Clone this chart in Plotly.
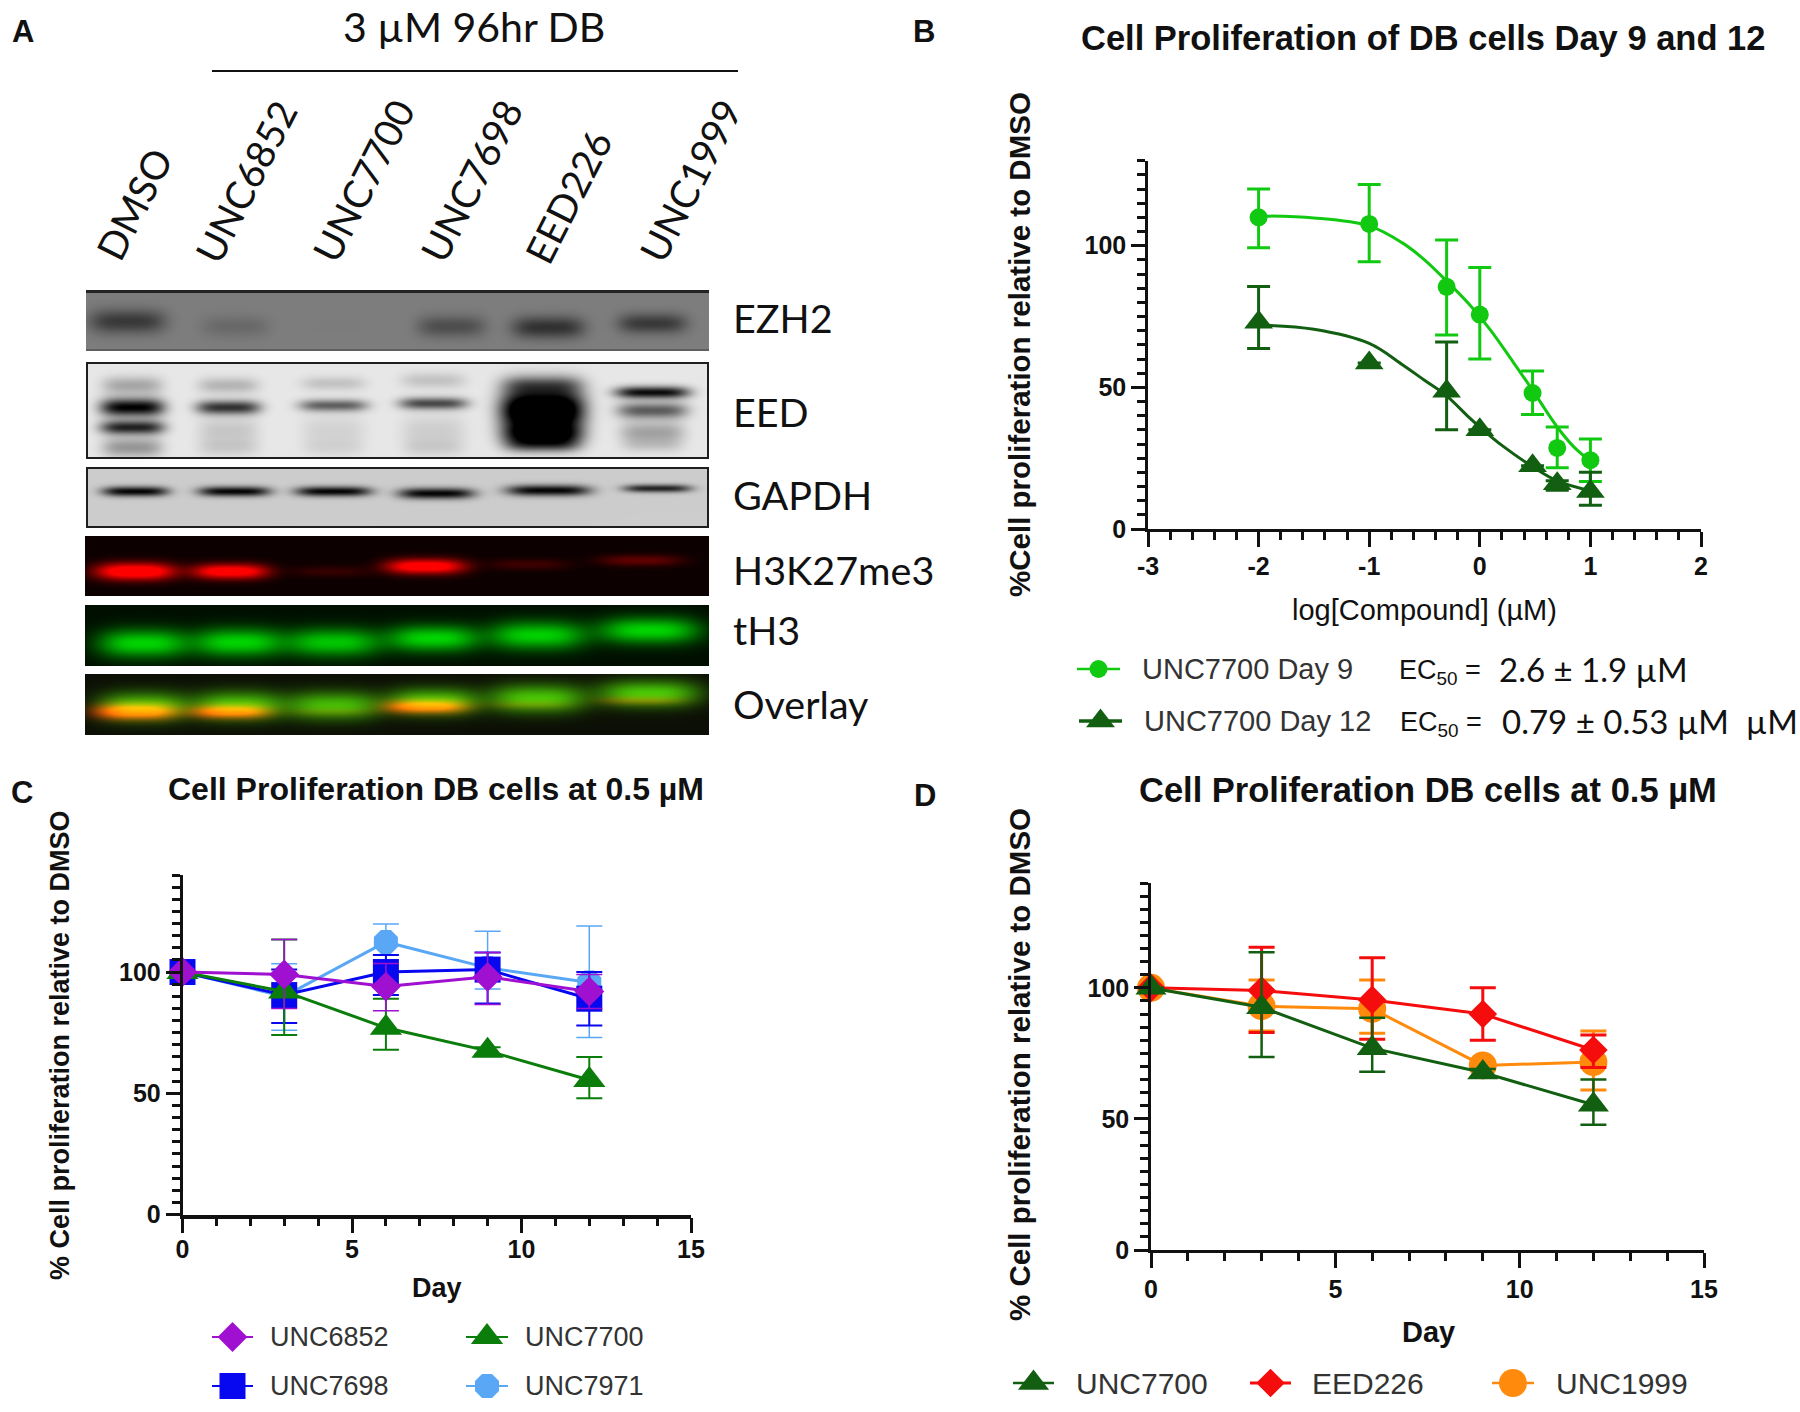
import numpy as np
import plotly.graph_objects as go

W, H = 1800, 1412

# ---------------- data ----------------
LANE_LABELS = ["DMSO", "UNC6852", "UNC7700", "UNC7698", "EED226", "UNC1999"]
BLOT_LABELS = ["EZH2", "EED", "GAPDH", "H3K27me3", "tH3", "Overlay"]

# band strengths per lane
EZH2_SIGNAL = [0.72, 0.22, 0.02, 0.50, 0.80, 0.72]
EED_MAIN = [1.0, 0.78, 0.58, 0.68, 1.4, 0.95]
EED_UPPER = [0.28, 0.22, 0.16, 0.16, 0.4, 0.60]
EED_LOWER = [0.85, 0.14, 0.09, 0.11, 0.8, 0.30]
EED_TAIL = [0.35, 0.12, 0.07, 0.10, 0.4, 0.12]
GAPDH_SIGNAL = [1.0, 1.0, 1.0, 1.0, 1.0, 0.85]
H3K27_SIGNAL = [1.0, 0.92, 0.13, 0.92, 0.16, 0.27]
TH3_SIGNAL = [0.86, 0.86, 0.80, 0.86, 0.84, 0.86]

B_LOGX = [-2, -1, -0.3, 0, 0.477, 0.7, 1]
B_DAY9 = [110, 107.7, 85.5, 75.7, 48, 28.6, 24.3]
B_DAY9_HI = [120, 121.6, 102, 92.3, 55.8, 36, 31.8]
B_DAY9_LO = [99.3, 94.3, 68.5, 60, 40.4, 21.6, 16.8]
B_DAY12 = [73, 58.6, 48.6, 35, 22.3, 16, 13.2]
B_DAY12_HI = [85.6, 58.6, 66, 35, 22.3, 17, 20]
B_DAY12_LO = [63.7, 58.6, 35, 35, 22.3, 13.7, 8.4]
B_FITX9 = [-2, -1.5, -1, -0.7, -0.5, -0.3, -0.1, 0.1, 0.3, 0.477, 0.7, 0.85, 1]
B_FITY9 = [110.5, 109.8, 107, 101, 95, 87.5, 79.5, 70, 59, 49, 36, 29, 24]
B_FITX12 = [-2, -1.5, -1, -0.7, -0.5, -0.3, -0.1, 0, 0.2, 0.477, 0.7, 1]
B_FITY12 = [72, 70.5, 65.5, 58, 52.5, 47, 39.5, 36, 29.5, 22, 17, 13.5]
B_XTICKS = [-3, -2, -1, 0, 1, 2]
B_XTICKTEXT = ["-3", "-2", "-1", "0", "1", "2"]

DAYS = [0, 3, 6, 9, 12]
C_7971 = [100, 90, 112.4, 101.7, 95.7]
C_7971_HI = [100, 103.4, 119.8, 116.8, 119]
C_7971_LO = [100, 76, 105, 93, 73]
C_7698 = [100, 90.5, 100, 101, 89]
C_7698_HI = [100, 101, 107, 108, 100]
C_7698_LO = [100, 79, 90.5, 87, 78]
C_7700 = [100, 92, 77, 67.5, 55.5]
C_7700_HI = [100, 113.4, 89, 69, 65]
C_7700_LO = [100, 74, 68, 66, 48]
C_6852 = [100, 99, 94, 98, 92]
C_6852_HI = [100, 113.4, 103.5, 108, 99]
C_6852_LO = [100, 85, 84, 86.6, 85]

D_1999 = [100, 93, 92, 70.4, 71.7]
D_1999_HI = [100, 103, 103, 71, 83.5]
D_1999_LO = [100, 83.5, 82.7, 69, 61]
D_226 = [100, 99, 95.4, 90, 76.3]
D_226_HI = [100, 115.5, 111.5, 100, 82]
D_226_LO = [100, 83, 80.4, 80, 69.6]
D_7700 = [100, 92.6, 77, 67.7, 55.4]
D_7700_HI = [100, 113.6, 88.6, 69, 65]
D_7700_LO = [100, 73.6, 68, 66, 47.8]

# ---------------- style ----------------
ARIAL = "Liberation Sans"
LATO = "Lato"
LIME, FOREST = "#12c912", "#125f12"
PURPLE, GREEN, BLUE, SKY = "#a010d0", "#0a7d0a", "#0808f0", "#5aa8f5"
RED, ORANGE = "#f50c0c", "#ff8a0c"


def px(x):
    return x / W


def py(y):
    return 1 - y / H


# ---------------- blot images ----------------
BOXES = {"EZH2": (86, 290, 709, 351), "EED": (86, 362, 709, 459), "GAPDH": (86, 467, 709, 528),
         "H3K27me3": (85, 536, 709, 596), "tH3": (85, 605, 709, 666), "Overlay": (85, 674, 709, 735)}


def layer(box, bands, power=4):
    x0, y0, x1, y1 = box
    yy, xx = np.mgrid[y0:y1, x0:x1]
    out = np.zeros(xx.shape)
    for cx, cy, hw, hh, s in bands:
        out += s * np.exp(-(np.abs(xx - cx) / hw) ** power) * np.exp(-((yy - cy) / hh) ** 2)
    return out


def gray_image(box, bands, bg, dark, edge=None, edge_w=2):
    v = np.clip(layer(box, bands), 0, 1)
    g = bg + (dark - bg) * v
    rgb = np.stack([g, g, g], axis=-1)
    if edge is not None:
        rgb[:edge_w, :] = edge
        rgb[-edge_w:, :] = edge
        rgb[:, :edge_w] = edge
        rgb[:, -edge_w:] = edge
    return rgb


ezh2_geom = [(127, 321, 38, 12), (235, 326, 34, 11), (336, 326, 30, 9), (451, 326, 34, 11), (548, 327, 36, 11), (652, 323, 34, 10)]
main_geom = [(132, 407, 32, 9), (228, 407, 32, 7), (333, 405, 34, 6), (433, 403, 34, 6), (542, 410, 42, 22), (652, 392, 37, 6)]
upper_geom = [(132, 385, 30, 9), (228, 385, 30, 8), (333, 383, 32, 7), (433, 380, 32, 8), (542, 384, 40, 9), (652, 410, 35, 8)]
lower_geom = [(132, 427, 32, 7), (228, 430, 30, 13), (333, 430, 32, 16), (433, 430, 32, 16), (542, 435, 40, 11), (652, 432, 32, 11)]
tail_geom = [(132, 447, 30, 10), (228, 447, 30, 9), (333, 447, 30, 9), (433, 447, 30, 9), (542, 445, 37, 7), (652, 445, 30, 7)]
gapdh_geom = [(135, 491, 33, 5), (234, 491, 36, 5), (333, 491, 38, 5), (436, 493, 38, 5.5), (548, 490, 42, 5.5), (657, 488, 34, 4)]
red_geom = [(135, 571, 40, 8.5), (230, 571, 38, 7.5), (330, 571, 40, 5.5), (425, 566, 40, 7.5), (528, 564, 40, 5.5), (640, 560, 42, 5.5)]
green_geom = [(143, 643, 45, 14), (238, 642, 44, 14), (333, 642, 47, 14), (433, 638, 45, 13), (537, 635, 48, 14), (649, 630, 50, 13)]

with_s = lambda geom, sig: [g + (s,) for g, s in zip(geom, sig)]

ezh2 = gray_image(BOXES["EZH2"], with_s(ezh2_geom, EZH2_SIGNAL), 126, 30)
ezh2[:3, :] = 35
ezh2[-2:, :] = 95
eed_b = (with_s(main_geom, EED_MAIN) + with_s(upper_geom, EED_UPPER)
         + with_s(lower_geom, EED_LOWER) + with_s(tail_geom, EED_TAIL))
eed = gray_image(BOXES["EED"], eed_b, 232, 0, edge=30)
gapdh = gray_image(BOXES["GAPDH"], with_s(gapdh_geom, GAPDH_SIGNAL), 205, 5, edge=30)

red_l = np.clip(layer(BOXES["H3K27me3"], with_s(red_geom, H3K27_SIGNAL), 3), 0, 1)
h3 = np.zeros(red_l.shape + (3,))
h3[..., 0] = 12 + 243 * np.clip(red_l * 1.3, 0, 1)
green_l = np.clip(layer(BOXES["tH3"], with_s(green_geom, TH3_SIGNAL), 3), 0, 1)
th3 = np.zeros(green_l.shape + (3,))
th3[..., 1] = 15 + 230 * green_l
ov_red = [(x, y + 140, hw, hh - 1, s) for x, y, hw, hh, s in with_s(red_geom, H3K27_SIGNAL)]
ov_green = [(x, y + 63, hw, hh, s) for x, y, hw, hh, s in with_s(green_geom, TH3_SIGNAL)]
ov_r = np.clip(layer(BOXES["Overlay"], ov_red, 3) * 1.3, 0, 1)
ov_g = np.clip(layer(BOXES["Overlay"], ov_green, 3), 0, 1)
ov = np.zeros(ov_r.shape + (3,))
ov[..., 0] = 12 + 243 * ov_r + 70 * ov_g * (1 - ov_r)
ov[..., 1] = 15 + 215 * ov_g
ov[..., 2] = 5

fig = go.Figure()

for name, arr in zip(BLOT_LABELS, [ezh2, eed, gapdh, h3, th3, ov]):
    x0, y0, _, _ = BOXES[name]
    fig.add_trace(go.Image(z=np.clip(arr, 0, 255).astype(int).tolist(), x0=x0 + 0.5, y0=y0 + 0.5,
                           dx=1, dy=1, xaxis="x4", yaxis="y4", hoverinfo="skip", colormodel="rgb"))


# ---------------- chart traces ----------------
def series(x, y, hi, lo, color, symbol, size, ax, lw=3, ew=3, cap=11.5, name=None):
    y_a, hi_a, lo_a = np.array(y, float), np.array(hi, float), np.array(lo, float)
    fig.add_trace(go.Scatter(
        x=x, y=y, mode="markers" if lw == 0 else "lines+markers", name=name, cliponaxis=False,
        line=dict(color=color, width=lw), showlegend=False,
        marker=dict(color=color, symbol=symbol, size=size, line=dict(width=0)),
        error_y=dict(type="data", symmetric=False, array=(hi_a - y_a).tolist(), arrayminus=(y_a - lo_a).tolist(),
                     color=color, thickness=ew, width=cap),
        xaxis="x" + ax, yaxis="y" + ax))


def fit(x, y, color):
    fig.add_trace(go.Scatter(x=x, y=y, mode="lines", showlegend=False, line=dict(color=color, width=3, shape="spline", smoothing=1.0),
                             xaxis="x", yaxis="y"))


fit(B_FITX9, B_FITY9, LIME)
fit(B_FITX12, B_FITY12, FOREST)
series(B_LOGX, B_DAY9, B_DAY9_HI, B_DAY9_LO, LIME, "circle", 18, "", lw=0, name="UNC7700 Day 9")
series(B_LOGX, B_DAY12, B_DAY12_HI, B_DAY12_LO, FOREST, "triangle-up", 25, "", lw=0, name="UNC7700 Day 12")

series(DAYS, C_7971, C_7971_HI, C_7971_LO, SKY, "octagon", 26, "2", ew=1.5, cap=13, name="UNC7971")
series(DAYS, C_7698, C_7698_HI, C_7698_LO, BLUE, "square", 26, "2", ew=2, cap=13, name="UNC7698")
series(DAYS, C_7700, C_7700_HI, C_7700_LO, GREEN, "triangle-up", 28, "2", ew=2, cap=13, name="UNC7700")
series(DAYS, C_6852, C_6852_HI, C_6852_LO, PURPLE, "diamond", 23, "2", ew=1.5, cap=13, name="UNC6852")

series(DAYS, D_1999, D_1999_HI, D_1999_LO, ORANGE, "circle", 28, "3", ew=3, cap=13, name="UNC1999")
series(DAYS, D_226, D_226_HI, D_226_LO, RED, "diamond", 22, "3", ew=3, cap=13, name="EED226")
series(DAYS, D_7700, D_7700_HI, D_7700_LO, FOREST, "triangle-up", 27, "3", ew=2.5, cap=13, name="UNC7700")

# ---------------- legend keys on a page-wide hidden axis ----------------
KEYS = [
    (1077, 1120, 669, LIME, "circle", 18, 2.5), (1079, 1122, 721, FOREST, "triangle-up", 25, 3.5),
    (212, 253, 1337, PURPLE, "diamond", 23, 2), (466, 508, 1337, GREEN, "triangle-up", 28, 2),
    (212, 253, 1386, BLUE, "square", 26, 2), (466, 508, 1386, SKY, "octagon", 26, 2),
    (1013, 1054, 1383, FOREST, "triangle-up", 27, 2.5), (1250, 1291, 1383, RED, "diamond", 22, 3),
    (1492, 1534, 1383, ORANGE, "circle", 28, 2.5),
]
for xa, xb, y, c, sym, sz, lw in KEYS:
    fig.add_trace(go.Scatter(x=[xa, xb], y=[y, y], mode="lines", line=dict(color=c, width=lw), showlegend=False,
                             hoverinfo="skip", xaxis="x4", yaxis="y4"))
    fig.add_trace(go.Scatter(x=[(xa + xb) / 2], y=[y], mode="markers", showlegend=False, hoverinfo="skip",
                             marker=dict(color=c, symbol=sym, size=sz, line=dict(width=0)), xaxis="x4", yaxis="y4"))

# ---------------- text ----------------
ann = []


def text(x, y, s, size, font=ARIAL, anchor="center", angle=0, color="#111111"):
    ann.append(dict(x=px(x), y=py(y), xref="paper", yref="paper", text=s, showarrow=False, xanchor=anchor,
                    yanchor="middle", textangle=angle, font=dict(family=font, size=size, color=color)))


for t, x, y in [("A", 23, 32), ("B", 924, 32), ("C", 22, 792), ("D", 925, 796)]:
    text(x, y, f"<b>{t}</b>", 31)

text(474, 26, "3 µM 96hr DB", 41, LATO)
for t, x, y in zip(LANE_LABELS, [134, 246, 363, 471, 568, 690], [204, 181, 181, 181, 197, 181]):
    text(x, y, t, 39, LATO, angle=-63)
for t, y in zip(BLOT_LABELS, [317, 411, 494, 569, 629, 703]):
    text(731, y, t, 39.5, LATO, anchor="left")

text(1423, 38, "<b>Cell Proliferation of DB cells Day 9 and 12</b>", 34.5)
text(1019, 345, "<b>%Cell proliferation relative to DMSO</b>", 29.5, angle=-90)
text(1424, 610, "log[Compound] (µM)", 29)
text(1140, 669, "UNC7700 Day 9", 29, anchor="left", color="#333333")
text(1142, 721, "UNC7700 Day 12", 29, anchor="left", color="#333333")
text(1397, 672, "EC<sub>50</sub> =", 27, anchor="left")
text(1497, 669, "2.6 ± 1.9 µM", 33, LATO, anchor="left")
text(1398, 724, "EC<sub>50</sub> =", 27, anchor="left")
text(1500, 721, "0.79 ± 0.53 µM  µM", 33, LATO, anchor="left")

text(436, 789, "<b>Cell Proliferation DB cells at 0.5 µM</b>", 32)
text(60, 1045, "<b>% Cell proliferation relative to DMSO</b>", 27, angle=-90)
text(437, 1288, "<b>Day</b>", 27)
for t, x, y in [("UNC6852", 268, 1337), ("UNC7700", 523, 1337), ("UNC7698", 268, 1386), ("UNC7971", 523, 1386)]:
    text(x, y, t, 27, anchor="left", color="#333333")

text(1428, 790, "<b>Cell Proliferation DB cells at 0.5 µM</b>", 34.5)
text(1019, 1065, "<b>% Cell proliferation relative to DMSO</b>", 29.5, angle=-90)
text(1428, 1332, "<b>Day</b>", 29)
for t, x in [("UNC7700", 1074), ("EED226", 1310), ("UNC1999", 1554)]:
    text(x, 1383, t, 30, anchor="left", color="#333333")


# ---------------- axes ----------------
def tick_font():
    return dict(family=ARIAL, size=25, color="#111111", weight="bold")


def xaxis(x0, x1, rng, vals, minor, anchor, width=2.5, standoff=0, labels=None):
    return dict(domain=[px(x0), px(x1)], range=rng, tickvals=vals, ticktext=labels or [str(v) for v in vals], ticks="outside", ticklen=15, tickwidth=2.5,
                automargin=False, ticklabelstandoff=standoff,
                showline=True, linecolor="#111111", linewidth=width, tickcolor="#111111", showgrid=False, zeroline=False,
                tickfont=tick_font(), anchor=anchor,
                minor=dict(dtick=minor, tick0=rng[0], ticks="outside", ticklen=8, tickwidth=2.5, tickcolor="#111111", showgrid=False))


def yaxis(y_bot, y_top, top, anchor):
    return dict(domain=[py(y_bot), py(y_top)], range=[0, top], tickvals=[0, 50, 100], ticks="outside", ticklen=14, tickwidth=2.5, automargin=False,
                showline=True, linecolor="#111111", linewidth=2.5, tickcolor="#111111", showgrid=False, zeroline=False,
                tickfont=tick_font(), anchor=anchor,
                minor=dict(dtick=5, tick0=0, ticks="outside", ticklen=8, tickwidth=2.5, tickcolor="#111111", showgrid=False))


fig.update_layout(
    template="none",
    width=W, height=H, margin=dict(l=0, r=0, t=0, b=0, pad=0), paper_bgcolor="white", plot_bgcolor="rgba(0,0,0,0)",
    showlegend=False, annotations=ann, font=dict(family=ARIAL),
    xaxis=xaxis(1148, 1701, [-3, 2], B_XTICKS, 0.2, "y", standoff=-2, labels=B_XTICKTEXT),
    yaxis=yaxis(529, 160.7, 130, "x"),
    xaxis2=xaxis(182.5, 691, [0, 15], [0, 5, 10, 15], 1, "y2", width=3.5, standoff=-5),
    yaxis2=yaxis(1214.6, 875, 140, "x2"),
    xaxis3=xaxis(1151, 1704, [0, 15], [0, 5, 10, 15], 1, "y3"),
    yaxis3=yaxis(1250, 883, 140, "x3"),
    xaxis4=dict(domain=[0, 1], range=[0, W], visible=False, anchor="y4", automargin=False),
    yaxis4=dict(domain=[0, 1], range=[H, 0], visible=False, anchor="x4", automargin=False),
    shapes=[dict(type="line", xref="paper", yref="paper", x0=px(212), x1=px(738), y0=py(71), y1=py(71),
                 line=dict(color="#111111", width=2))],
)

fig.write_html("out.html", post_script="document.body.style.margin='0';", config=dict(displayModeBar=False))
